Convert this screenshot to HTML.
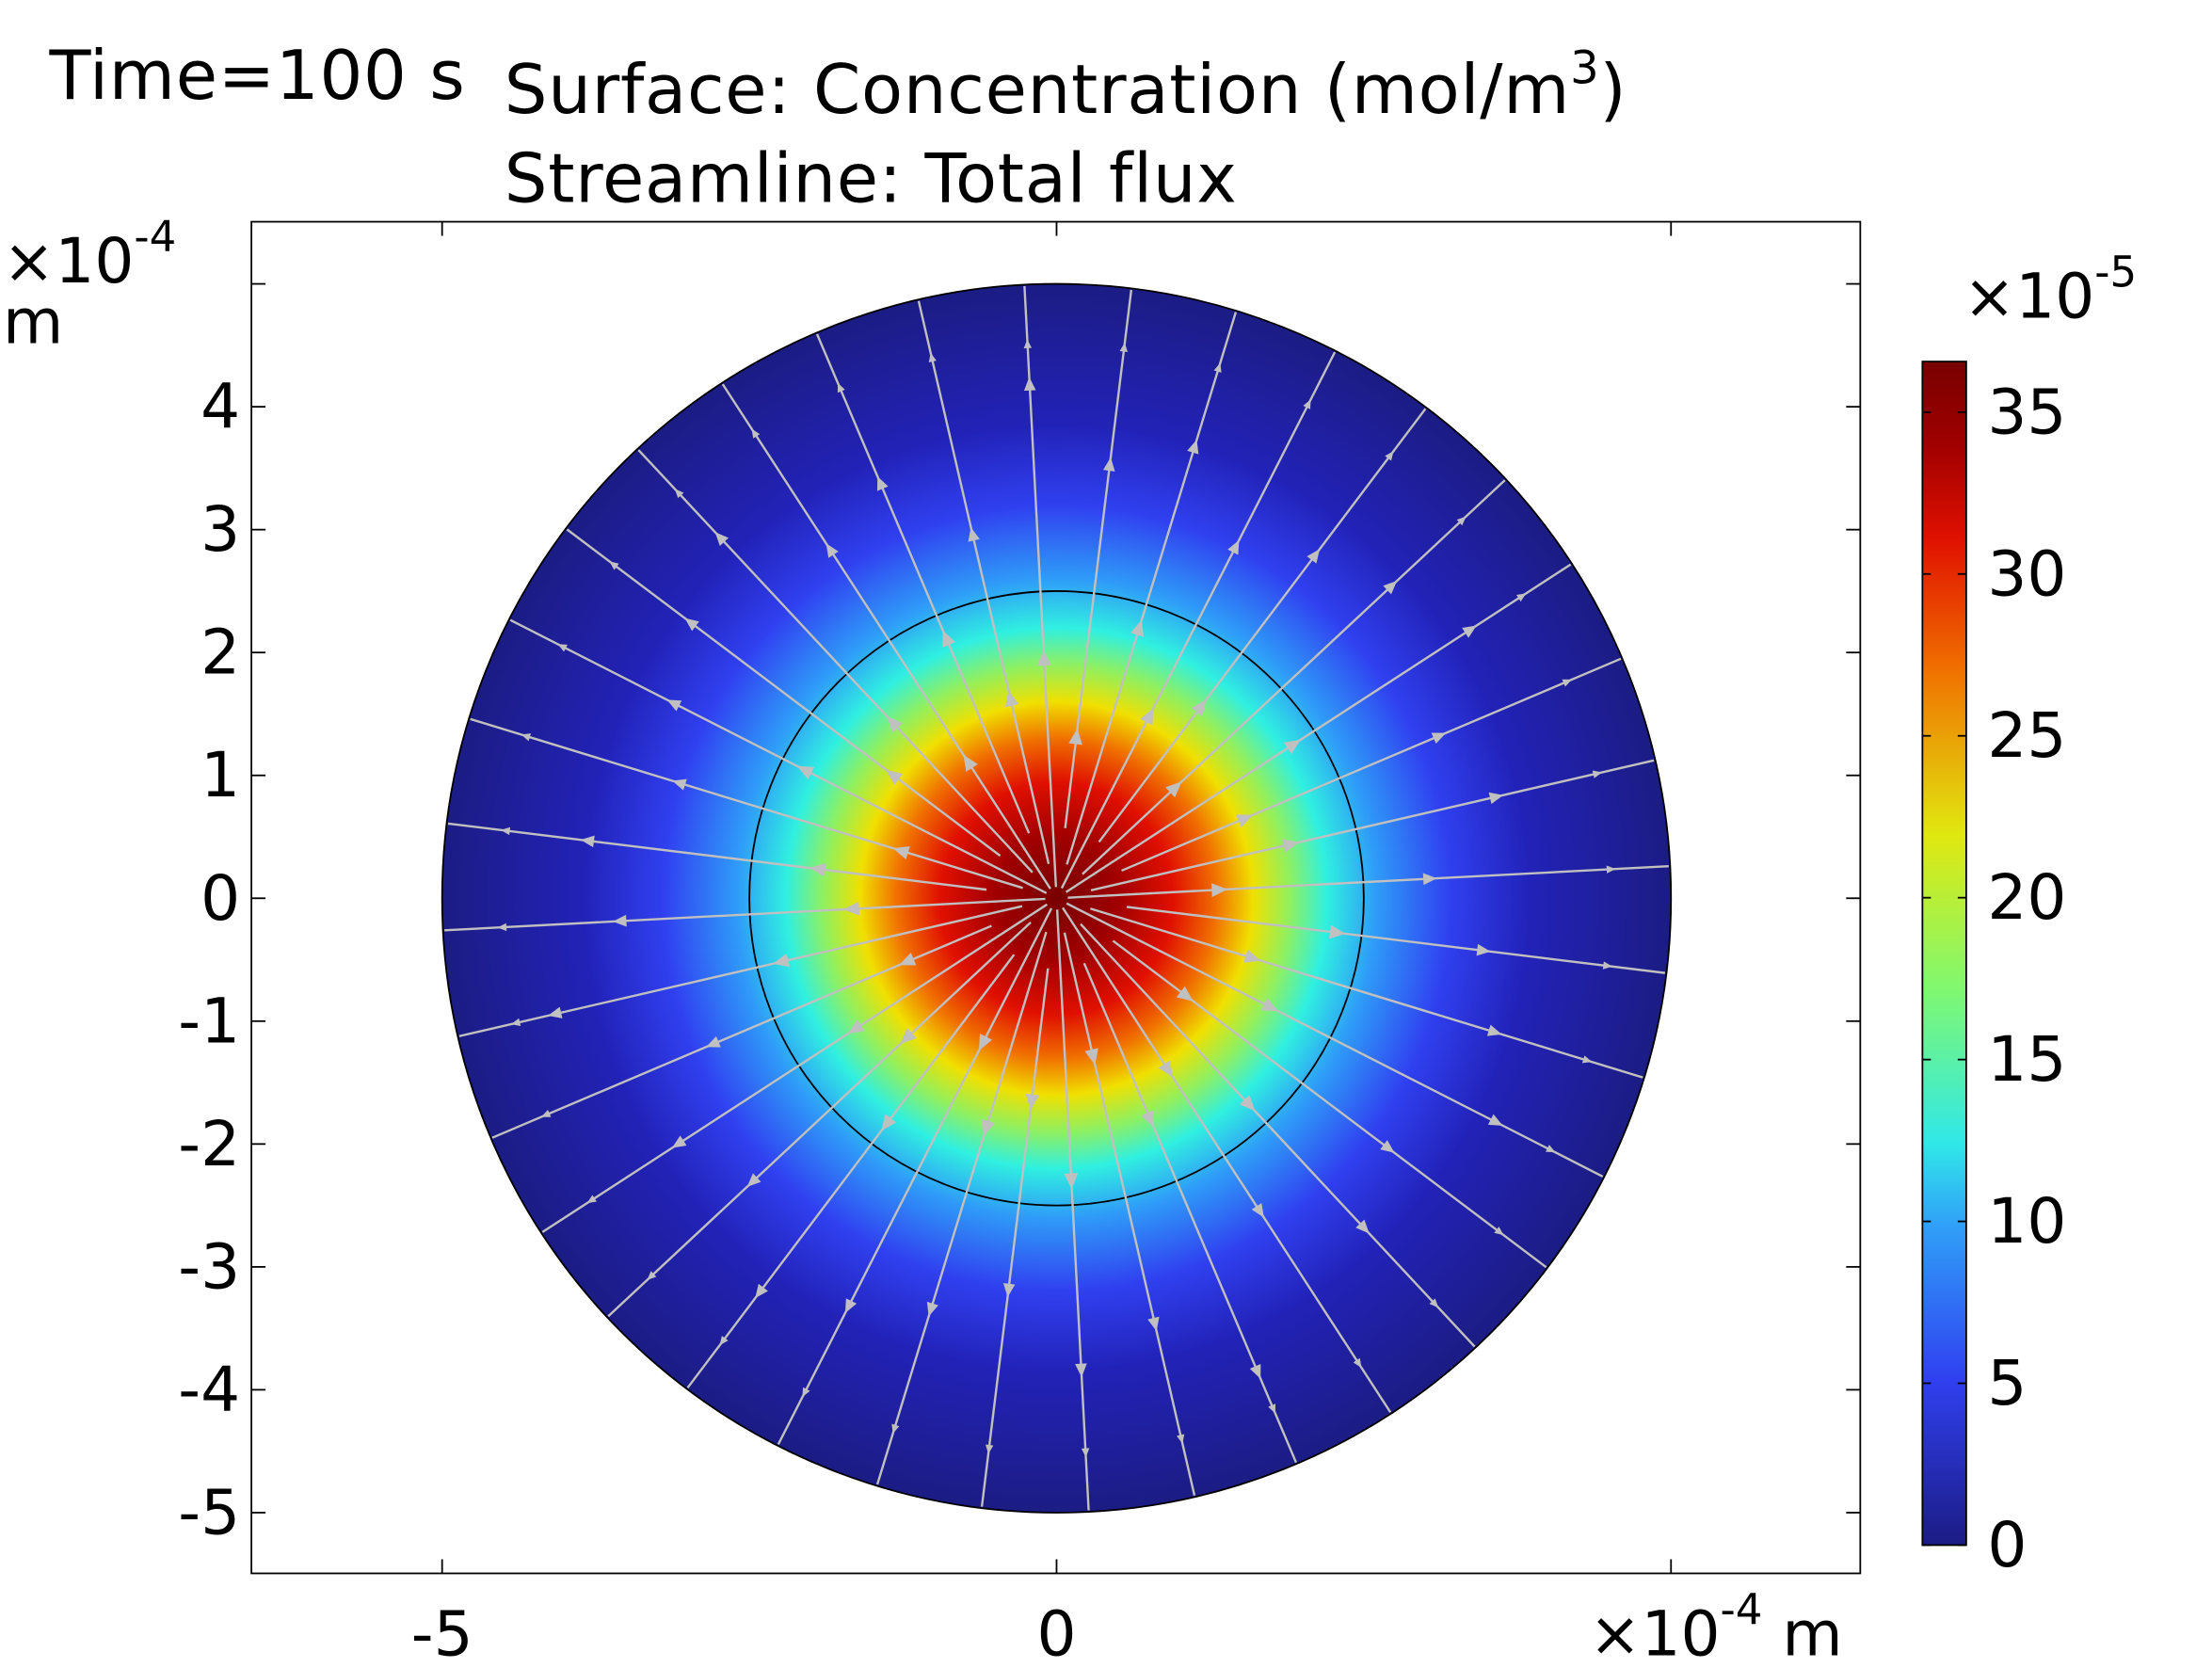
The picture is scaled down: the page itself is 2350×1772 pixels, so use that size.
<!DOCTYPE html>
<html><head><meta charset="utf-8"><style>
html,body{margin:0;padding:0;background:#fff;width:2350px;height:1772px;overflow:hidden}
svg{display:block}
text{font-family:"DejaVu Sans","Liberation Sans",sans-serif;fill:#000}
</style></head><body>
<svg id="s" width="2350" height="1772" viewBox="0 0 1566 1181" preserveAspectRatio="none" xmlns="http://www.w3.org/2000/svg">
<defs>
<radialGradient id="g" cx="748" cy="636" r="435" gradientUnits="userSpaceOnUse">
<stop offset="0" stop-color="#780000"/>
<stop offset="0.10" stop-color="#a00000"/>
<stop offset="0.19" stop-color="#e01000"/>
<stop offset="0.26" stop-color="#f07000"/>
<stop offset="0.32" stop-color="#f0e000"/>
<stop offset="0.38" stop-color="#90f060"/>
<stop offset="0.44" stop-color="#30f0e0"/>
<stop offset="0.52" stop-color="#2f9cf8"/>
<stop offset="0.64" stop-color="#3040f0"/>
<stop offset="0.77" stop-color="#2222b8"/>
<stop offset="1" stop-color="#1c1c84"/>
</radialGradient>
<linearGradient id="cb" x1="0" y1="1" x2="0" y2="0">
<stop offset="0" stop-color="#1c1c84"/>
<stop offset="0.14" stop-color="#3040f0"/>
<stop offset="0.27" stop-color="#30a0f8"/>
<stop offset="0.34" stop-color="#30e8e8"/>
<stop offset="0.47" stop-color="#80f870"/>
<stop offset="0.6" stop-color="#e0e810"/>
<stop offset="0.74" stop-color="#f07000"/>
<stop offset="0.85" stop-color="#e01000"/>
<stop offset="0.93" stop-color="#a00000"/>
<stop offset="1" stop-color="#780000"/>
</linearGradient>
</defs>
<circle cx="748" cy="636" r="435" fill="url(#g)" stroke="#000" stroke-width="1.2"/>
<circle cx="748" cy="636" r="217.5" fill="none" stroke="#000" stroke-width="1.2"/>
<g id="st" stroke="#c0c0c0" stroke-width="1.6" fill="#c0c0c0"></g>
<rect x="178" y="157" width="1139" height="957" fill="none" stroke="#000" stroke-width="1.2"/>
<g id="tk" stroke="#000" stroke-width="1.2"></g>
<g font-size="44" text-anchor="end" id="yl"></g>
<g font-size="44" text-anchor="middle">
<text x="313" y="1172">-5</text><text x="748" y="1172">0</text>
</g>
<text x="1125" y="1172" font-size="44">×10<tspan font-size="30" dy="-22">-4</tspan><tspan dy="22"> m</tspan></text>
<text x="2" y="200" font-size="44">×10<tspan font-size="30" dy="-22">-4</tspan></text>
<text x="2" y="243" font-size="44">m</text>
<text x="35" y="70" font-size="48" letter-spacing="0.5">Time=100 s</text>
<text x="357" y="80" font-size="48" letter-spacing="0.5">Surface: Concentration (mol/m<tspan font-size="32" dy="-21">3</tspan><tspan dy="21">)</tspan></text>
<text x="357" y="143" font-size="48" letter-spacing="0.5">Streamline: Total flux</text>
<rect x="1361" y="256" width="31" height="838" fill="url(#cb)" stroke="#000" stroke-width="1.2"/>
<text x="1390" y="225" font-size="44">×10<tspan font-size="30" dy="-22">-5</tspan></text>
<g font-size="44" id="cl"></g>
<g id="ct" stroke="#000" stroke-width="1.2"></g>
</svg>
<script>
var ns="http://www.w3.org/2000/svg";
function el(p,t,a,txt){var e=document.createElementNS(ns,t);for(var k in a)e.setAttribute(k,a[k]);if(txt!==undefined)e.textContent=txt;document.getElementById(p).appendChild(e);return e;}
for(var v=-5;v<=5;v++){var y=636-v*87;
 el("tk","line",{x1:178,y1:y,x2:188,y2:y});el("tk","line",{x1:1317,y1:y,x2:1307,y2:y});
 if(v<5)el("yl","text",{x:170,y:y+15},String(v));}
[313,748,1183].forEach(function(x){el("tk","line",{x1:x,y1:1114,x2:x,y2:1104});el("tk","line",{x1:x,y1:157,x2:x,y2:167});});
for(var c=0;c<=35;c+=5){var y=1094-c*22.92;el("cl","text",{x:1407,y:y+15},String(c));
 el("ct","line",{x1:1361,y1:y,x2:1367,y2:y});el("ct","line",{x1:1392,y1:y,x2:1386,y2:y});}
var cx=748,cy=636;
for(var i=0;i<36;i++){
 var a=(i*10+3)*Math.PI/180, ca=Math.cos(a), sa=-Math.sin(a);
 var r0=(i%3==0)?8:(i%3==1?25:50), r1=434;
 el("st","line",{x1:cx+ca*r0,y1:cy+sa*r0,x2:cx+ca*r1,y2:cy+sa*r1});
 var ps=[(i%2?150:110)+ (i%4)*15, (i%2?300:260)+(i%5)*15, 390];
 ps.forEach(function(r,j){var s=j==2?4:(j==1?6:7);
  var px=cx+ca*r,py=cy+sa*r,nx=-sa,ny=ca;
  var pts=[[px+ca*s*1.6,py+sa*s*1.6],[px+nx*s*0.7,py+ny*s*0.7],[px-nx*s*0.7,py-ny*s*0.7]];
  el("st","polygon",{points:pts.map(function(p){return p.join(",")}).join(" "),stroke:"none"});});
}
</script>
</body></html>
